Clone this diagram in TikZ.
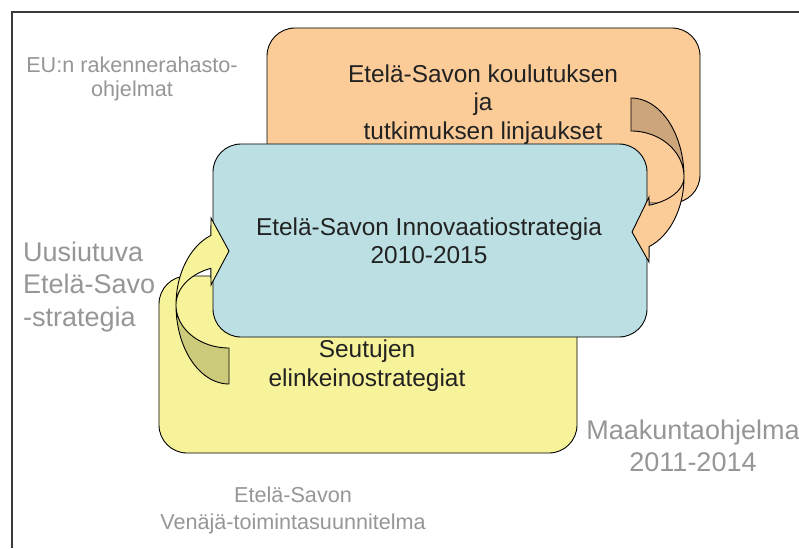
\documentclass[tikz,border=0pt]{standalone}
\usepackage{fontspec}
\setmainfont{Liberation Sans}
\usepackage{tikz}
\usetikzlibrary{positioning}
\definecolor{orangefill}{HTML}{FBCB98}
\definecolor{orangeback}{HTML}{CCA57A}
\definecolor{bluefill}{HTML}{BBDFE2}
\definecolor{yellowfill}{HTML}{F7F39A}
\definecolor{yellowback}{HTML}{CCCB7C}
\definecolor{txtdark}{HTML}{222222}
\definecolor{txtgray}{HTML}{969696}
\definecolor{framegray}{HTML}{3A3A3A}
\tikzstyle{box}=[draw,rounded corners=28pt,inner sep=0,line width=0.9pt]
\tikzstyle{boxtext}=[text=txtdark,align=center,inner sep=0,font=\fontsize{24.4}{28.5}\selectfont]
\tikzstyle{smallgray}=[text=txtgray,align=center,inner sep=0,font=\fontsize{21.6}{24.5}\selectfont]
\tikzstyle{biggray}=[text=txtgray,inner sep=0,font=\fontsize{27}{32.5}\selectfont]
\tikzstyle{curvedband}=[draw,line width=0.9pt,line join=miter]

\begin{document}
\begin{tikzpicture}[x=1pt,y=-1pt]
\useasboundingbox (0,0) rectangle (799,548);
\draw[framegray,line width=1.4pt] (12,548) -- (12,12) -- (799,12);

% the three programmes
\node[box,fill=orangefill,minimum width=433pt,minimum height=175pt] (kou) at (483.5,115.5) {};
\node[box,fill=yellowfill,minimum width=418pt,minimum height=177pt] (seu) at (368,364.5) {};
\node[box,fill=bluefill,minimum width=434pt,minimum height=193pt] (inn) at (430,240.5) {};

\node[boxtext] (kout) at (483,104.5) {Etelä-Savon koulutuksen\\ja\\tutkimuksen linjaukset};
\node[boxtext,font=\fontsize{24.4}{28}\selectfont] (innt) at (429,240.5) {Etelä-Savon Innovaatiostrategia\\2010-2015};
\node[boxtext,font=\fontsize{24.4}{29}\selectfont] (seut) at (367,366) {Seutujen\\elinkeinostrategiat};

% curved arrow, right
\path[curvedband,fill=orangeback] plot[domain=270:360,samples=40,variable=\t] ({631+53*cos(\t)},{177+79*sin(\t)})
	-- plot[domain=360:270,samples=40,variable=\t] ({631+53*cos(\t)},{177+46*sin(\t)}) -- cycle;
\path[curvedband,fill=orangefill] plot[domain=0:70,samples=40,variable=\t] ({631+53*cos(\t)},{177+74*sin(\t)})
	-- (649,262) -- (632,232) -- (649,197)
	-- plot[domain=70:0,samples=40,variable=\t] ({631+53*cos(\t)},{177+30*sin(\t)}) -- cycle;

% curved arrow, left
\path[curvedband,fill=yellowback] plot[domain=180:90,samples=40,variable=\t] ({229+53*cos(\t)},{305+79*sin(\t)})
	-- plot[domain=90:180,samples=40,variable=\t] ({229+53*cos(\t)},{305+43*sin(\t)}) -- cycle;
\path[curvedband,fill=yellowfill] plot[domain=180:250,samples=40,variable=\t] ({229+53*cos(\t)},{305+74*sin(\t)})
	-- (211,218) -- (229,251) -- (211,285)
	-- plot[domain=250:180,samples=40,variable=\t] ({229+53*cos(\t)},{305+39*sin(\t)}) -- cycle;

% surrounding programmes
\node[smallgray] (eu) at (132,79) {EU:n rakennerahasto-\\ohjelmat};
\node[biggray,align=left,anchor=west] (uusi) at (23,287) {Uusiutuva\\Etelä-Savo\\-strategia};
\node[biggray,align=center,font=\fontsize{27}{32}\selectfont] (maak) at (693,446) {Maakuntaohjelma\\2011-2014};
\node[smallgray,font=\fontsize{21.6}{27}\selectfont] (ven) at (293,510) {Etelä-Savon\\Venäjä-toimintasuunnitelma};
\end{tikzpicture}
\end{document}
